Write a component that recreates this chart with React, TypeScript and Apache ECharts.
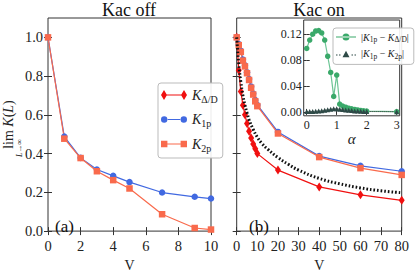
import { useEffect, useRef } from "react";
import * as echarts from "echarts";

// ---------- data ----------
const Va = [0, 1, 2, 3, 4, 5, 7, 9, 10];
const K1pA = [1.0, 0.488, 0.378, 0.318, 0.285, 0.253, 0.199, 0.177, 0.168];
const K2pA = [1.0, 0.477, 0.377, 0.309, 0.263, 0.22, 0.087, 0.016, 0.008];

const Vb = [0, 1, 2, 3, 4, 5, 6, 7, 8, 9, 10, 20, 40, 60, 80];
const KddB = [1.0, 0.83, 0.72, 0.65, 0.6, 0.555, 0.515, 0.48, 0.45, 0.425, 0.4, 0.315, 0.228, 0.187, 0.159];
const K1pB = [1.0, 0.966, 0.93, 0.886, 0.856, 0.82, 0.785, 0.746, 0.71, 0.676, 0.651, 0.512, 0.387, 0.337, 0.309];
const K2pB = [1.0, 0.96, 0.925, 0.88, 0.85, 0.815, 0.78, 0.74, 0.705, 0.67, 0.645, 0.504, 0.382, 0.325, 0.29];

const Vfit = [0, 1, 2, 3, 4, 5, 6, 8, 10, 12, 15, 20, 25, 30, 40, 50, 60, 70, 80];
const Kfit = [1.0, 0.86, 0.77, 0.7, 0.65, 0.61, 0.575, 0.525, 0.485, 0.455, 0.423, 0.38, 0.345, 0.315, 0.272, 0.244, 0.223, 0.208, 0.198];

const alpha = [0, 0.1, 0.2, 0.3, 0.4, 0.5, 0.6, 0.7, 0.8, 0.9, 1.0, 1.1, 1.2, 1.3, 1.4, 1.5, 1.6, 1.7, 1.8, 1.9, 2.0, 3.0];
const diffDD = [0.098, 0.111, 0.12, 0.125, 0.1256, 0.122, 0.111, 0.086, 0.061, 0.024, 0.057, 0.012, 0.009, 0.0072, 0.0058, 0.0047, 0.0038, 0.003, 0.0023, 0.0017, 0.0012, 0.0003];
const diff2p = [0.0005, 0.0005, 0.0006, 0.0009, 0.0013, 0.0018, 0.0026, 0.0034, 0.0042, 0.0048, 0.0048, 0.0042, 0.0036, 0.003, 0.0025, 0.002, 0.0016, 0.0013, 0.001, 0.0008, 0.0006, 0.0003];

const yTicksMain = [0, 0.2, 0.4, 0.6, 0.8, 1.0];
const insetYTicks = [0, 0.04, 0.08, 0.12];
const insetXTicks = [0, 1, 2, 3];

const names = {
  dd: "K_Δ/D",
  p1: "K_1p",
  p2: "K_2p",
  d1: "|K1p-KΔ/D|",
  d2: "|K1p-K2p|",
};

const FONT = "'Liberation Serif', 'Times New Roman', serif";
const RED = "#f01010";
const BLUE = "#4169e1";
const ORANGE = "#f96a4c";
const GREEN = "#3aa96a";
const DARK = "#2e4a47";
const AX = "#333";

const zip = (xs: number[], ys: number[]) => xs.map((x, i) => [x, ys[i]]);

function xAxisCfg(grid: number, min: number, max: number, pos: "top" | "bottom", opts: any = {}) {
  return {
    type: "value",
    gridIndex: grid,
    min,
    max,
    position: pos,
    axisLine: { show: false },
    splitLine: { show: false },
    axisTick: { show: true, inside: true, length: 4, lineStyle: { color: AX, width: 1 } },
    axisLabel: { show: false },
    ...opts,
  };
}
function yAxisCfg(grid: number, min: number, max: number, pos: "left" | "right", opts: any = {}) {
  return {
    type: "value",
    gridIndex: grid,
    min,
    max,
    position: pos,
    axisLine: { show: false },
    splitLine: { show: false },
    axisTick: { show: true, inside: true, length: 4, lineStyle: { color: AX, width: 1 } },
    axisLabel: { show: false },
    ...opts,
  };
}

const mainLabel = { fontFamily: FONT, fontSize: 14.5, color: "#222" };

export default function App() {
  const ref = useRef<HTMLDivElement>(null);
  useEffect(() => {
    if (!ref.current) return;
    const chart = echarts.init(ref.current, undefined, { renderer: "svg" });

    const tickMainY = { show: true, inside: true, length: 4, customValues: yTicksMain, lineStyle: { color: AX } };
    const tickInY = { show: true, inside: true, length: 3, customValues: insetYTicks, lineStyle: { color: AX } };
    const tickInX = { show: true, inside: true, length: 3, customValues: insetXTicks, lineStyle: { color: AX } };

    const richBig = {
      k: { fontFamily: FONT, fontStyle: "italic", fontSize: 14, lineHeight: 18, color: "#222" },
      s: { fontFamily: FONT, fontSize: 10, lineHeight: 10, verticalAlign: "bottom", color: "#222" },
    };
    const richSmall = {
      k: { fontFamily: FONT, fontStyle: "italic", fontSize: 10, lineHeight: 13, color: "#222" },
      s: { fontFamily: FONT, fontSize: 7.5, lineHeight: 7.5, verticalAlign: "bottom", color: "#222" },
      n: { fontFamily: FONT, fontSize: 10, lineHeight: 13, color: "#222" },
    };
    const legendFmt: Record<string, string> = {
      [names.dd]: "{k|K}{s|Δ/D}",
      [names.p1]: "{k|K}{s|1p}",
      [names.p2]: "{k|K}{s|2p}",
      [names.d1]: "{n||}{k|K}{s|1p}{n| − }{k|K}{s|Δ/D}{n||}",
      [names.d2]: "{n||}{k|K}{s|1p}{n| − }{k|K}{s|2p}{n||}",
    };

    const option: any = {
      animation: false,
      backgroundColor: "#fff",
      grid: [
        { left: 47.7, top: 18, width: 163.3, height: 225.3, show: true, borderColor: AX, borderWidth: 1, backgroundColor: "transparent" },
        { left: 236.7, top: 18, width: 165, height: 225.3, show: true, borderColor: AX, borderWidth: 1, backgroundColor: "transparent" },
        { left: 303.7, top: 20, width: 96, height: 95.8, show: true, borderColor: AX, borderWidth: 1, backgroundColor: "#fff", z: 3 },
      ],
      xAxis: [
        xAxisCfg(0, 0, 10, "bottom", {
          interval: 2,
          axisLabel: { show: true, margin: 7, ...mainLabel },
          name: "V",
          nameLocation: "middle",
          nameGap: 18,
          nameTextStyle: { fontFamily: FONT, fontSize: 14, color: "#222" },
        }),
        xAxisCfg(0, 0, 10, "top", { interval: 2 }),
        xAxisCfg(1, 0, 80, "bottom", {
          interval: 10,
          axisLabel: { show: true, margin: 7, ...mainLabel },
          name: "V",
          nameLocation: "middle",
          nameGap: 18,
          nameTextStyle: { fontFamily: FONT, fontSize: 14, color: "#222" },
        }),
        xAxisCfg(1, 0, 80, "top", { interval: 10 }),
        xAxisCfg(2, -0.1, 3.1, "bottom", {
          axisTick: tickInX,
          axisLabel: { show: true, margin: 3, customValues: insetXTicks, fontFamily: FONT, fontSize: 12, color: "#222" },
          name: "α",
          nameLocation: "middle",
          nameGap: 15,
          nameTextStyle: { fontFamily: FONT, fontSize: 15, fontStyle: "italic", color: "#222" },
          z: 3,
        }),
        xAxisCfg(2, -0.1, 3.1, "top", { axisTick: tickInX, z: 3 }),
      ],
      yAxis: [
        yAxisCfg(0, 0, 1.1, "left", {
          axisTick: tickMainY,
          axisLabel: { show: true, margin: 5, customValues: yTicksMain, formatter: (v: number) => v.toFixed(1), ...mainLabel },
          name: "{n|lim }{i|K}{n|(}{i|L}{n|)}",
          nameLocation: "middle",
          nameGap: 33,
          nameRotate: 90,
          nameTextStyle: {
            rich: {
              n: { fontFamily: FONT, fontSize: 14, color: "#222" },
              i: { fontFamily: FONT, fontSize: 14, fontStyle: "italic", color: "#222" },
            },
          },
        }),
        yAxisCfg(0, 0, 1.1, "right", { axisTick: tickMainY }),
        yAxisCfg(1, 0, 1.1, "left", { axisTick: tickMainY }),
        yAxisCfg(1, 0, 1.1, "right", { axisTick: tickMainY }),
        yAxisCfg(2, -0.006, 0.142, "left", {
          axisTick: tickInY,
          axisLabel: { show: true, margin: 2, customValues: insetYTicks, formatter: (v: number) => v.toFixed(2), fontFamily: FONT, fontSize: 12, color: "#222" },
          z: 3,
        }),
        yAxisCfg(2, -0.006, 0.142, "right", { axisTick: tickInY, z: 3 }),
      ],
      legend: [
        {
          data: [
            { name: names.dd, icon: "path://M0,5L3,0L6,5L3,10Z M20,5L23,0L26,5L23,10Z M3,4.4H23V5.6H3Z" },
            { name: names.p1, icon: "path://M0,5a3.2,3.2 0 1,0 6.4,0a3.2,3.2 0 1,0 -6.4,0Z M19.6,5a3.2,3.2 0 1,0 6.4,0a3.2,3.2 0 1,0 -6.4,0Z M6,4.4H20V5.6H6Z" },
            { name: names.p2, icon: "path://M0,1.8H6.4V8.2H0Z M19.6,1.8H26V8.2H19.6Z M6,4.4H20V5.6H6Z" },
          ],
          orient: "vertical",
          left: 158,
          top: 83,
          padding: [5, 5, 5, 3],
          itemGap: 8.5,
          itemWidth: 26,
          itemHeight: 10,
          itemTextGap: 9,
          borderColor: "#bbb",
          borderWidth: 1,
          borderRadius: 3,
          backgroundColor: "rgba(255,255,255,0.9)",
          selectedMode: false,
          formatter: (n: string) => legendFmt[n],
          textStyle: { fontFamily: FONT, rich: richBig },
          z: 10,
        },
        {
          data: [
            { name: names.d1, icon: "path://M0,3.4H20V4.6H0Z M6.5,4a3.5,3.5 0 1,0 7,0a3.5,3.5 0 1,0 -7,0Z" },
            { name: names.d2, icon: "path://M0,4.4h1.5v1h-1.5Z M3,4.4h1.5v1h-1.5Z M15.5,4.4h1.5v1h-1.5Z M18.5,4.4h1.5v1h-1.5Z M6.5,7L10,0.5L13.5,7Z" },
          ],
          orient: "vertical",
          left: 333,
          top: 28,
          padding: [4, 5, 4, 3],
          itemGap: 5.4,
          itemWidth: 20,
          itemHeight: 8,
          itemTextGap: 6,
          borderColor: "#bbb",
          borderWidth: 1,
          borderRadius: 3,
          backgroundColor: "rgba(255,255,255,0.9)",
          selectedMode: false,
          formatter: (n: string) => legendFmt[n],
          textStyle: { fontFamily: FONT, rich: richSmall },
          z: 10,
        },
      ],
      series: [
        // panel (a)
        { name: names.dd, type: "line", xAxisIndex: 0, yAxisIndex: 0, data: [], symbol: "diamond", symbolSize: [6, 9], itemStyle: { color: RED }, lineStyle: { color: RED, width: 1.2 } },
        { name: names.p1, type: "line", xAxisIndex: 0, yAxisIndex: 0, data: zip(Va, K1pA), symbol: "circle", symbolSize: 6.5, itemStyle: { color: BLUE }, lineStyle: { color: BLUE, width: 1.2 } },
        { name: names.p2, type: "line", xAxisIndex: 0, yAxisIndex: 0, data: zip(Va, K2pA), symbol: "rect", symbolSize: 6.5, itemStyle: { color: ORANGE }, lineStyle: { color: ORANGE, width: 1.2 } },
        // panel (b)
        { name: names.dd, type: "line", xAxisIndex: 2, yAxisIndex: 2, data: zip(Vb, KddB), symbol: "diamond", symbolSize: [6, 9], itemStyle: { color: RED }, lineStyle: { color: RED, width: 1.2 } },
        { name: names.p1, type: "line", xAxisIndex: 2, yAxisIndex: 2, data: zip(Vb, K1pB), symbol: "circle", symbolSize: 6.5, itemStyle: { color: BLUE }, lineStyle: { color: BLUE, width: 1.2 } },
        { name: names.p2, type: "line", xAxisIndex: 2, yAxisIndex: 2, data: zip(Vb, K2pB), symbol: "rect", symbolSize: 6.5, itemStyle: { color: ORANGE }, lineStyle: { color: ORANGE, width: 1.2 } },
        { name: "fit", type: "line", xAxisIndex: 2, yAxisIndex: 2, data: zip(Vfit, Kfit), symbol: "none", smooth: true, lineStyle: { color: "#111", width: 3, type: [1.6, 2], cap: "butt" }, z: 4 },
        // inset
        { name: names.d1, type: "line", xAxisIndex: 4, yAxisIndex: 4, data: zip(alpha, diffDD), symbol: "circle", symbolSize: 5.5, itemStyle: { color: GREEN }, lineStyle: { color: "#6cc595", width: 1.2 }, z: 5 },
        { name: names.d2, type: "line", xAxisIndex: 4, yAxisIndex: 4, data: zip(alpha, diff2p), symbol: "triangle", symbolSize: 5, itemStyle: { color: DARK }, lineStyle: { color: "#222", width: 1, type: "dotted" }, z: 5 },
      ],
      graphic: [
        { type: "text", x: 129, y: 1, style: { text: "Kac off", font: `18px ${FONT}`, fill: "#111", textAlign: "center", textVerticalAlign: "top" } },
        { type: "text", x: 319, y: 1, style: { text: "Kac on", font: `18px ${FONT}`, fill: "#111", textAlign: "center", textVerticalAlign: "top" } },
        { type: "text", x: 55, y: 218, style: { text: "(a)", font: `17px ${FONT}`, fill: "#111", textAlign: "left", textVerticalAlign: "top" } },
        { type: "text", x: 249, y: 218, style: { text: "(b)", font: `17px ${FONT}`, fill: "#111", textAlign: "left", textVerticalAlign: "top" } },
        { type: "text", x: 19, y: 148, rotation: Math.PI / 2, style: { text: "L→∞", font: `italic 8px ${FONT}`, fill: "#222", textAlign: "center", textVerticalAlign: "middle" } },
      ],
    };
    chart.setOption(option);
    return () => chart.dispose();
  }, []);
  return <div ref={ref} style={{ position: "fixed", left: 0, top: 0, width: 415, height: 277 }} />;
}
